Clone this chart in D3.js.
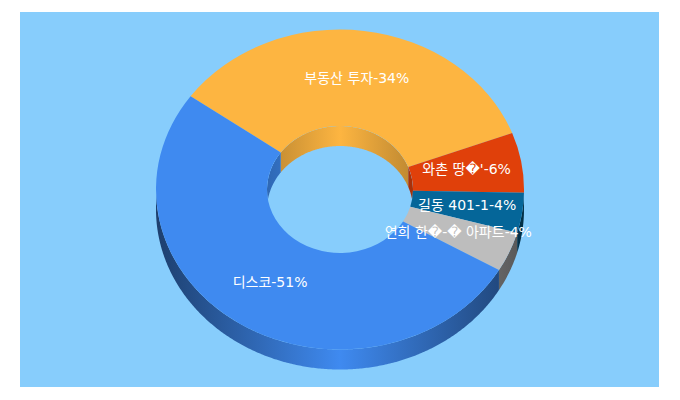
<!DOCTYPE html>
<html>
<head>
<meta charset="utf-8">
<script src="https://cdn.jsdelivr.net/npm/d3@7"></script>
<style>
  html, body { margin: 0; padding: 0; background: #fff; }
  text { font-family: "DejaVu Sans", "Noto Sans CJK KR", sans-serif; font-size: 14px; fill: #fff; }
</style>
</head>
<body>
<div id="chart"></div>
<script>
const labels = ['부동산 투자-34%', '와촌 땅\uFFFD\'-6%', '길동 401-1-4%', '연희 한\uFFFD-\uFFFD 아파트-4%', '디스코-51%'];
const values = [34, 6, 4, 4, 51];
const colors = ['#fdb541', '#e0400a', '#056699', '#bdbdbd', '#3f8af0'];

const width = 680, height = 400;
const cx = 340, cy = 189.5;
const rOuter = 184, rInner = 73;
const squash = 160 / 184;
const depth = 20;
const rad = Math.PI / 180;
const start = 305.7 * rad;

const svg = d3.select('#chart')
    .append('svg')
    .attr('width', width)
    .attr('height', height)
    .style('display', 'block');

svg.append('rect')
    .attr('x', 20)
    .attr('y', 12)
    .attr('width', 639)
    .attr('height', 375)
    .attr('fill', '#87cdfc');

const defs = svg.append('defs');

defs.append('clipPath')
    .attr('id', 'hole')
    .append('ellipse')
    .attr('cx', cx)
    .attr('cy', cy)
    .attr('rx', rInner)
    .attr('ry', rInner * squash);

// one horizontal gradient per colour, bright in the middle, dark at the sides
function wallGradient(id, color, r, k) {
    const g = defs.append('linearGradient')
        .attr('id', id)
        .attr('gradientUnits', 'userSpaceOnUse')
        .attr('x1', cx - r)
        .attr('x2', cx + r)
        .attr('y1', 0)
        .attr('y2', 0);
    g.append('stop').attr('offset', 0).attr('stop-color', d3.color(color).darker(k));
    g.append('stop').attr('offset', 0.5).attr('stop-color', color);
    g.append('stop').attr('offset', 1).attr('stop-color', d3.color(color).darker(k));
}

colors.forEach((c, i) => {
    wallGradient('outer' + i, c, rOuter, 2.2);
    wallGradient('inner' + i, c, rInner, 0.8);
});

const pie = d3.pie()
    .sort(null)
    .startAngle(start)
    .endAngle(start + 2 * Math.PI);
const slices = pie(values);

const arc = d3.arc()
    .innerRadius(rInner)
    .outerRadius(rOuter);

const line = d3.line();

// wall between the top edge and the same edge moved down by depth
function wallPath(s, r, lo, hi) {
    const a0 = Math.max(s.startAngle, lo * rad);
    const a1 = Math.min(s.endAngle, hi * rad);
    if (a1 <= a0) return null;
    const steps = d3.range(a0, a1, rad / 2).concat(a1);
    const top = steps.map(a => [cx + r * Math.sin(a), cy - r * squash * Math.cos(a)]);
    const bottom = top.map(p => [p[0], p[1] + depth]).reverse();
    return line(top.concat(bottom)) + 'Z';
}

const walls = svg.append('g');
const inner = svg.append('g').attr('clip-path', 'url(#hole)');

slices.forEach((s, i) => {
    [[90, 270], [450, 630]].forEach(w => {
        const d = wallPath(s, rOuter, w[0], w[1]);
        if (d) walls.append('path').attr('d', d).attr('fill', `url(#outer${i})`);
    });
    [[270, 450], [630, 810]].forEach(w => {
        const d = wallPath(s, rInner, w[0], w[1]);
        if (d) inner.append('path').attr('d', d).attr('fill', `url(#inner${i})`);
    });
});

const ring = svg.append('g')
    .attr('transform', `translate(${cx},${cy}) scale(1,${squash})`);

ring.selectAll('path')
    .data(slices)
    .join('path')
    .attr('d', arc)
    .attr('fill', (d, i) => colors[i]);

svg.append('g')
    .selectAll('text')
    .data(slices)
    .join('text')
    .attr('x', d => cx + arc.centroid(d)[0])
    .attr('y', d => cy + arc.centroid(d)[1] * squash - 1)
    .attr('dy', '0.35em')
    .attr('text-anchor', 'middle')
    .text((d, i) => labels[i]);
</script>
</body>
</html>
